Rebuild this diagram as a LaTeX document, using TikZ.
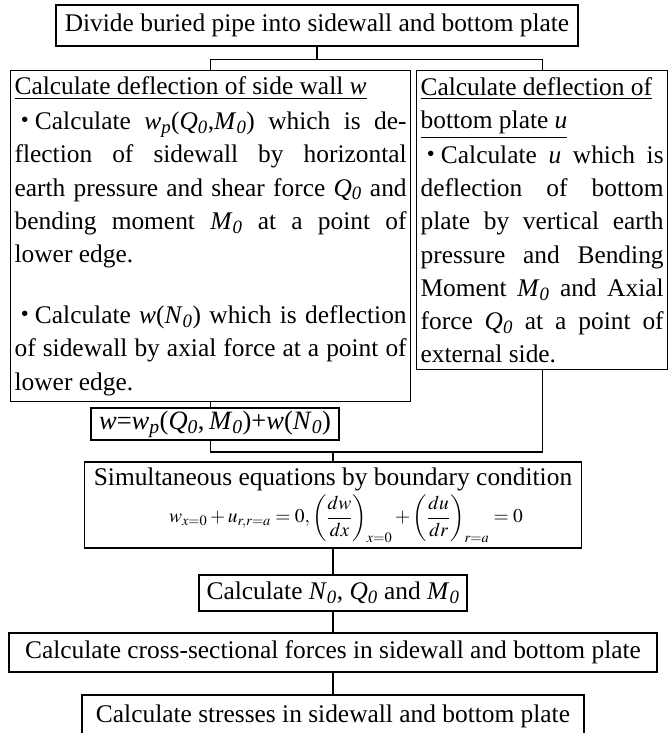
\documentclass[tikz,border=0pt]{standalone}
\usepackage{amsmath}
\usepackage{mathptmx}
\usepackage{fontspec}
\setmainfont{Liberation Serif}
\newfontfamily\cjk{Noto Sans CJK JP}
\usetikzlibrary{positioning}
\setlength{\parindent}{0pt}
\newcommand{\kdot}{\makebox[0.8em]{\cjk ・}}
\newcommand{\isub}[2]{\textit{#1}\textsubscript{\textit{#2}}}
\newcommand{\pgap}[1]{\par\vspace{#1}}
\tikzset{
  bx/.style={draw=black, line width=1.3pt, inner sep=4pt,
             font=\fontsize{25.4}{33.2}\selectfont},
  tb/.style={bx, anchor=north west, align=justify},       % text block
  ln/.style={draw=black, line width=1.3pt},                 % connector
}

\begin{document}
\begin{tikzpicture}[x=1pt, y=-1pt]
  \useasboundingbox (0,0) rectangle (669,733);
  % ---------------- top ----------------
  \node[bx, minimum width=522pt, minimum height=41pt] (top) at (317,25.5)
    {Divide buried pipe into sidewall and bottom plate};
  % ---------------- two branches ----------------
  \node[tb, text width=392pt, minimum height=331pt] (wall) at (10,70) {%
    \underline{Calculate deflection of side wall \textit{w}}\pgap{2pt}
    \kdot Calculate \isub{w}{p}(\isub{Q}{0},\isub{M}{0}) which is de-\linebreak
    flection of sidewall by horizontal\linebreak
    earth pressure and shear force \isub{Q}{0} and\linebreak
    bending moment \isub{M}{0} at a point of\linebreak
    lower edge.\pgap{28pt}
    \kdot Calculate \textit{w}(\isub{N}{0}) which is deflection\linebreak
    of sidewall by axial force at a point of\linebreak
    lower edge.\par};
  \node[tb, text width=243pt, minimum height=299pt] (plate) at (416,70) {%
    \underline{Calculate deflection of}\par
    \underline{bottom plate \textit{u}}\pgap{2pt}
    \kdot Calculate \textit{u} which is\linebreak
    deflection of bottom\linebreak
    plate by vertical earth\linebreak
    pressure and Bending\linebreak
    Moment \isub{M}{0} and Axial\linebreak
    force \isub{Q}{0} at a point of\linebreak
    external side.\par};
  \node[bx, inner sep=2pt, minimum width=248pt, minimum height=32pt,
        font=\fontsize{26.5}{30}\selectfont] (wsum) at (215,424)
    {\textit{w}=\isub{w}{p}(\isub{Q}{0},\,\isub{M}{0})+\textit{w}(\isub{N}{0})};
  % ---------------- lower chain ----------------
  \coordinate (mrg) at (333,452);
  \node[bx, align=center, minimum width=497pt, minimum height=86pt] (simeq) at (333,505)
    {Simultaneous equations by boundary condition\\[3pt]
     {\fontsize{19.5}{21}\selectfont\hspace*{26pt}%
      $w_{x=0}+u_{r,r=a}=0,\left(\dfrac{dw}{dx}\right)_{x=0}+\left(\dfrac{du}{dr}\right)_{r=a}=0$}};
  \node[bx, minimum width=268pt, minimum height=36pt] (force) at (333,593)
    {Calculate \isub{N}{0}, \isub{Q}{0} and \isub{M}{0}};
  \node[bx, minimum width=648pt, minimum height=39pt] (sect) at (333,652.5)
    {Calculate cross-sectional forces in sidewall and bottom plate};
  \node[bx, minimum width=502pt, minimum height=42pt] (stress) at (333,716)
    {Calculate stresses in sidewall and bottom plate};
  % connectors
  \draw[ln] (top.south) -- ++(0,13) -| (wall.north);
  \draw[ln] (top.south) -- ++(0,13) -| (plate.north);
  \draw[ln] (wall.south) -- (wall.south |- wsum.north);
  \draw[ln] (wall.south |- wsum.south) |- (mrg) -| (plate.south);
  \draw[ln] (mrg) -- (simeq.north);
  \foreach \u/\v in {simeq/force, force/sect, sect/stress}
    \draw[ln] (\u.south) -- (\v.north);
\end{tikzpicture}
\end{document}
